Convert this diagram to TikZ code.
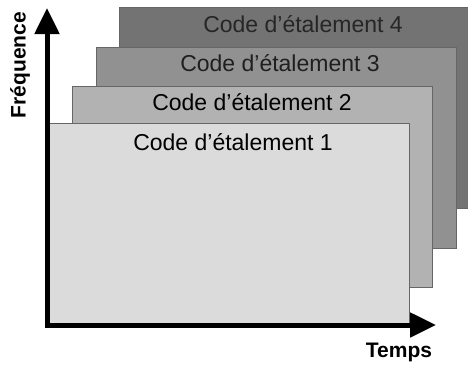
\documentclass[tikz,border=0pt]{standalone}
\usepackage{fontspec}
\setmainfont{Liberation Sans}
\usetikzlibrary{arrows.meta}

\begin{document}
\begin{tikzpicture}[
  x=1pt, y=-1pt,
  sheet/.style={draw=black!60, line width=0.6pt, minimum width=360pt, minimum height=201pt, inner sep=0pt},
  codelbl/.style={font=\fontsize{23}{26}\selectfont},
  axislbl/.style={font=\fontsize{21}{24}\selectfont\bfseries},
  axis/.style={line width=5pt, {Triangle[length=26pt,width=24pt]}-{Triangle[length=26pt,width=24pt]}}
]
\useasboundingbox (0,0) rectangle (468,364);

\node[sheet, fill=black!55] (c4) at (299,108) {};
\node[sheet, fill=black!43] (c3) at (276,147.5) {};
\node[sheet, fill=black!30] (c2) at (252,186.5) {};
\node[sheet, fill=black!14] (c1) at (229,223.5) {};

\node[codelbl, text=black!85] (l4) at (303,24) {Code d’étalement 4};
\node[codelbl, text=black!88] (l3) at (280,63) {Code d’étalement 3};
\node[codelbl] (l2) at (252,102) {Code d’étalement 2};
\node[codelbl] (l1) at (233,142) {Code d’étalement 1};

\coordinate (o) at (47,325);
\coordinate (ytip) at (47,8);
\coordinate (xtip) at (436,325);
\draw[axis] (ytip) -- (o) -- (xtip);

\node[axislbl, rotate=90] (freq) at (20,65) {Fréquence};
\node[axislbl] (temps) at (399,352) {Temps};
\end{tikzpicture}
\end{document}
